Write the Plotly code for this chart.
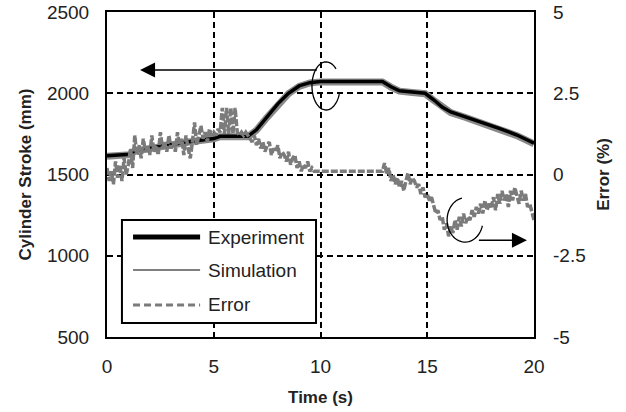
import numpy as np
import plotly.graph_objects as go

# ---------------- data ----------------
stroke_time = [0, 1.1, 1.3, 2, 3, 4, 5, 5.3, 6.6, 7.0, 7.5, 8.0, 8.5, 9.0, 9.5, 10,
               12.9, 13.3, 13.7, 14.3, 14.9, 15.3, 15.7, 16.1, 16.8, 17.6, 18.4, 19.2, 20]
experiment = [1615, 1625, 1648, 1665, 1685, 1705, 1722, 1735, 1735, 1775, 1855, 1935, 2000,
              2045, 2065, 2072, 2072, 2040, 2015, 2008, 2000, 1960, 1915, 1885, 1855, 1817,
              1782, 1743, 1692]
simulation = [1612, 1622, 1645, 1662, 1683, 1703, 1720, 1733, 1733, 1772, 1852, 1932, 1998,
              2042, 2063, 2070, 2070, 2038, 2013, 2005, 1997, 1957, 1912, 1881, 1851, 1813,
              1778, 1739, 1688]

error_time = [round(i * 0.1, 1) for i in range(201)]
error = [
    0.2, -0.2, 0.1, -0.3, 0.4, -0.1, 0.3, -0.2, 0.5, 0.0,
    0.3, 0.8, 0.2, 1.2, 0.6, 0.9, 0.5, 1.1, 0.7, 0.9,
    0.6, 1.2, 0.7, 0.9, 0.6, 1.3, 0.8, 1.0, 0.7, 1.2,
    0.8, 1.0, 0.7, 1.3, 0.9, 1.1, 0.6, 1.2, 0.8, 0.5,
    1.0, 1.6, 0.9, 1.2, 1.5, 1.1, 1.3, 1.0, 1.4, 1.2,
    1.3, 1.2, 1.4, 1.3, 2.05, 1.25, 2.05, 1.25, 2.05, 1.25,
    2.05, 1.3, 1.2, 1.3, 1.2, 1.3, 1.2, 1.1, 1.0, 1.2,
    0.9, 1.1, 0.8, 1.0, 0.7, 0.9, 1.0, 0.6, 0.8, 0.7,
    0.9, 0.5, 0.7, 0.6, 0.4, 0.7, 0.3, 0.5, 0.6, 0.2,
    0.4, 0.1, 0.3, 0.2, 0.4, 0.1, 0.2, 0.1, 0.1, 0.1,
    0.1, 0.1, 0.1, 0.1, 0.1, 0.1, 0.1, 0.1, 0.1, 0.1,
    0.1, 0.1, 0.1, 0.1, 0.1, 0.1, 0.1, 0.1, 0.1, 0.1,
    0.1, 0.1, 0.1, 0.1, 0.1, 0.1, 0.1, 0.1, 0.1, 0.1,
    0.35, 0.0, 0.2, -0.2, 0.0, -0.3, -0.1, -0.4, -0.2, -0.5,
    -0.2, 0.05, -0.3, -0.1, -0.2, -0.4, -0.3, -0.6, -0.4, -0.7,
    -0.6, -0.8, -0.7, -1.0, -1.2, -1.1, -1.4, -1.3, -1.7, -1.5,
    -1.9, -1.6, -1.8, -1.4, -1.7, -1.3, -1.6, -1.2, -1.5, -1.3,
    -1.4, -1.1, -1.3, -1.0, -1.2, -0.9, -1.2, -0.8, -1.1, -0.9,
    -1.0, -0.7, -1.1, -0.6, -0.9, -0.5, -0.8, -0.6, -1.0, -0.5,
    -0.8, -0.4, -0.7, -0.9, -0.5, -0.8, -0.6, -1.0, -0.9, -1.2,
    -1.4,
]

x_ticks = [0, 5, 10, 15, 20]
y_ticks = [500, 1000, 1500, 2000, 2500]
y2_ticks = [-5, -2.5, 0, 2.5, 5]
y2_ticktext = ["-5", "-2.5", "0", "2.5", "5"]
legend_names = ["Experiment", "Simulation", "Error"]

# ---------------- styling ----------------
FONT = "Liberation Sans, Arial, sans-serif"
TXT = "#222222"
GRAY = "#7b7b7b"
GRID_DASH = "6px,4px"

fig = go.Figure()

fig.add_trace(go.Scatter(x=stroke_time, y=simulation, mode="lines",
                         line=dict(color="#8a8a8a", width=7), showlegend=False,
                         name="Simulation", hoverinfo="skip"))
fig.add_trace(go.Scatter(x=stroke_time, y=experiment, mode="lines",
                         line=dict(color="black", width=3.5), showlegend=False,
                         name="Experiment"))
fig.add_trace(go.Scatter(x=error_time, y=error, mode="lines", yaxis="y2",
                         line=dict(color=GRAY, width=3.5, dash="7px,2px"),
                         showlegend=False, name="Error"))

axis_common = dict(showline=True, linecolor="black", linewidth=2, mirror=True,
                   zeroline=False, ticks="", automargin=False, ticklabeloverflow="allow",
                   tickfont=dict(family=FONT, size=19, color=TXT))

fig.update_layout(
    width=626, height=412, autosize=False,
    margin=dict(l=107, r=92, t=12, b=75),
    paper_bgcolor="white", plot_bgcolor="white",
    showlegend=False,
    xaxis=dict(range=[0, 20], tickvals=x_ticks, showgrid=True, gridcolor="black",
               gridwidth=1.5, griddash=GRID_DASH, ticklabelstandoff=11,
               title=dict(text="Time (s)", standoff=15,
                          font=dict(family=FONT, size=17, color=TXT, weight="bold")),
               **axis_common),
    yaxis=dict(range=[500, 2500], tickvals=y_ticks, showgrid=True, gridcolor="black",
               gridwidth=1.5, griddash=GRID_DASH, ticklabelstandoff=12,
               title=dict(text="Cylinder Stroke (mm)", standoff=11,
                          font=dict(family=FONT, size=17, color=TXT, weight="bold")),
               **axis_common),
    yaxis2=dict(range=[-5, 5], tickvals=y2_ticks, ticktext=y2_ticktext, overlaying="y",
                side="right", showgrid=False, showline=False, zeroline=False, ticks="",
                ticklabelstandoff=18, automargin=False, ticklabeloverflow="allow",
                tickfont=dict(family=FONT, size=19, color=TXT),
                title=dict(text="Error (%)", standoff=12,
                           font=dict(family=FONT, size=17, color=TXT, weight="bold"))),
)

# ---------------- manual legend ----------------
shapes = []
shapes.append(dict(type="rect", xref="x", yref="y", x0=0.70, x1=9.79, y0=586, y1=1220,
                   line=dict(color="black", width=2), fillcolor="white", layer="above"))
leg_rows = [1115, 912, 697]
leg_styles = [dict(color="black", width=5),
              dict(color="#808080", width=2),
              dict(color=GRAY, width=3, dash="7px,4px")]
for yv, st in zip(leg_rows, leg_styles):
    shapes.append(dict(type="line", xref="x", yref="y", x0=1.22, x1=4.36, y0=yv, y1=yv,
                       line=st, layer="above"))

# ---------------- open ellipses ----------------
def ellipse_path(cx, cy, rx, ry, a0, a1, n=48):
    ang = np.radians(np.linspace(a0, a1, n))
    xs = cx + rx * np.cos(ang)
    ys = cy + ry * np.sin(ang)
    return "M" + " L".join(f"{x:.4f},{y:.4f}" for x, y in zip(xs, ys))

shapes.append(dict(type="path", xref="x", yref="y",
                   path=ellipse_path(10.26, 2045, 0.66, 148, 45, 340),
                   line=dict(color="black", width=1.3), layer="above"))
shapes.append(dict(type="path", xref="x", yref="y2",
                   path=ellipse_path(16.77, -1.4, 0.84, 0.68, 100, 345),
                   line=dict(color="black", width=1.3), layer="above"))
fig.update_layout(shapes=shapes)

annotations = []
for yv, name in zip(leg_rows, legend_names):
    annotations.append(dict(x=4.62, y=yv, xref="x", yref="y", text=name,
                            showarrow=False, xanchor="left", yanchor="middle",
                            font=dict(family=FONT, size=19, color=TXT)))
# arrows
annotations.append(dict(x=1.55, y=2143, ax=9.9, ay=2143, xref="x", yref="y",
                        axref="x", ayref="y", text="", showarrow=True,
                        arrowhead=2, arrowsize=2, arrowwidth=1.5, arrowcolor="black"))
annotations.append(dict(x=19.67, y=-2.02, ax=17.35, ay=-2.02, xref="x", yref="y2",
                        axref="x", ayref="y2", text="", showarrow=True,
                        arrowhead=2, arrowsize=2, arrowwidth=1.5, arrowcolor="black"))
fig.update_layout(annotations=annotations)

# remove the browser's default 8px body margin so the figure sits at (0, 0)
fig.write_html("out.html", config={"displayModeBar": False},
               post_script="document.body.style.margin='0px';")
